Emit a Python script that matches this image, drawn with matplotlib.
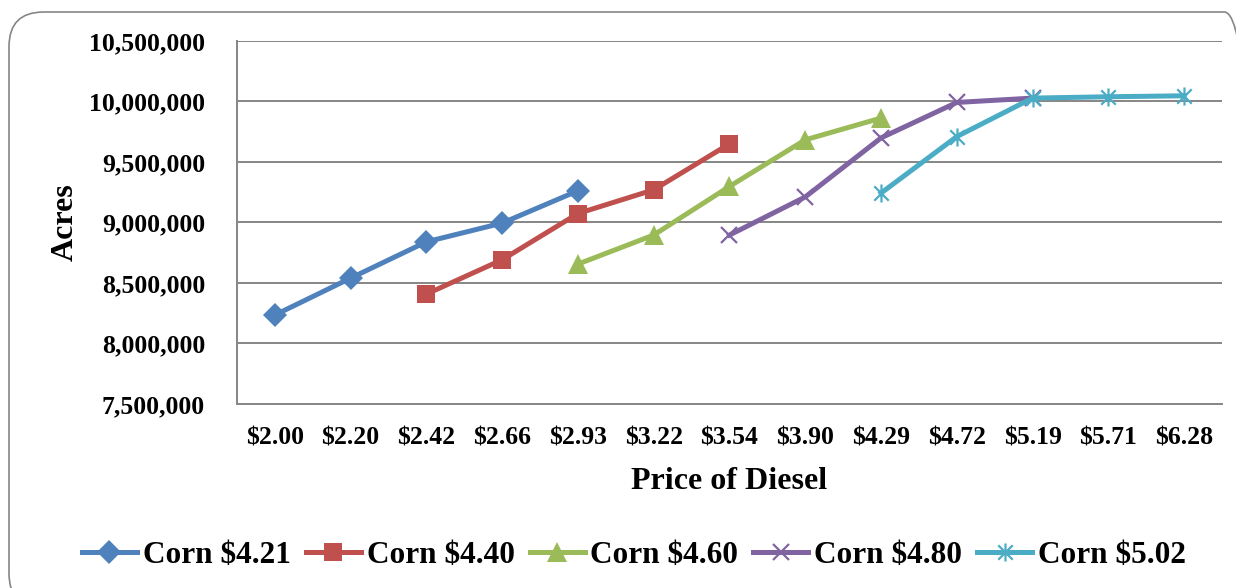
import matplotlib
matplotlib.use("Agg")
import matplotlib.pyplot as plt
from matplotlib.patches import FancyBboxPatch
from matplotlib.path import Path
from matplotlib.ticker import FuncFormatter

plt.rcParams['font.family'] = ['Liberation Serif', 'DejaVu Serif']
plt.rcParams['font.weight'] = 'bold'

prices = ['$2.00', '$2.20', '$2.42', '$2.66', '$2.93', '$3.22', '$3.54',
          '$3.90', '$4.29', '$4.72', '$5.19', '$5.71', '$6.28']

# each series: first price index and acres
corn_421_start = 0
corn_421 = [8235000, 8540000, 8840000, 8995000, 9262000]
corn_440_start = 2
corn_440 = [8408000, 8692000, 9074000, 9270000, 9650000]
corn_460_start = 4
corn_460 = [8656000, 8896000, 9298000, 9683000, 9863000]
corn_480_start = 6
corn_480 = [8896000, 9211000, 9699000, 9992000, 10028000]
corn_502_start = 8
corn_502 = [9243000, 9710000, 10028000, 10039000, 10047000]

# excel style asterisk: vertical bar + x
star = Path([(0, -1), (0, 1), (-0.8, -0.8), (0.8, 0.8), (-0.8, 0.8), (0.8, -0.8)],
            [Path.MOVETO, Path.LINETO, Path.MOVETO, Path.LINETO, Path.MOVETO, Path.LINETO])

series = [
    ('Corn $4.21', corn_421_start, corn_421, '#4F81BD', 'D', 12, 0),
    ('Corn $4.40', corn_440_start, corn_440, '#C0504D', 's', 13, 0),
    ('Corn $4.60', corn_460_start, corn_460, '#9BBB59', '^', 14, 0),
    ('Corn $4.80', corn_480_start, corn_480, '#8064A2', 'x', 12, 1.6),
    ('Corn $5.02', corn_502_start, corn_502, '#4BACC6', star, 13, 1.6),
]

fig = plt.figure(figsize=(12.36, 5.88), dpi=100)
ax = fig.add_axes([0.1917, 0.313, 0.797, 0.6173])

border = FancyBboxPatch((9 / 1236, -20 / 588), 1250 / 1236, 596 / 588,
                        boxstyle='round,pad=0,rounding_size=0.028',
                        transform=fig.transFigure, facecolor='none',
                        edgecolor='#868686', linewidth=1.2,
                        mutation_aspect=1236 / 588)
fig.patches.append(border)

for name, start, vals, col, mk, ms, mew in series:
    xs = list(range(start, start + len(vals)))
    ax.plot(xs, vals, color=col, linewidth=3.6, marker=mk, markersize=ms,
            markeredgewidth=mew, markeredgecolor=col, markerfacecolor=col,
            label=name)

ax.set_xlim(-0.5, len(prices) - 0.5)
ax.set_ylim(7500000, 10500000)
ax.set_yticks(range(7500000, 10500001, 500000))
ax.yaxis.set_major_formatter(FuncFormatter(lambda v, p: f'{int(v):,}'))
ax.set_xticks(range(len(prices)))
ax.set_xticklabels(prices)
ax.tick_params(axis='both', length=0, labelsize=18.5)
ax.tick_params(axis='x', pad=16)
ax.tick_params(axis='y', pad=23)
ax.grid(axis='y', color='#868686', linewidth=1.4)
ax.set_axisbelow(True)
for s in ['top', 'right']:
    ax.spines[s].set_visible(False)
for s in ['left', 'bottom']:
    ax.spines[s].set_color('#868686')
    ax.spines[s].set_linewidth(1.4)

ax.set_xlabel('Price of Diesel', fontsize=23, fontweight='bold', labelpad=12.5)
ax.set_ylabel('Acres', fontsize=23, fontweight='bold', labelpad=7)

fig.legend(loc='center', bbox_to_anchor=(0.513, 0.056), ncol=5, frameon=False,
           fontsize=22.5, handlelength=1.76, columnspacing=0.48, handletextpad=0.19)

fig.savefig('out.png', dpi=100)
